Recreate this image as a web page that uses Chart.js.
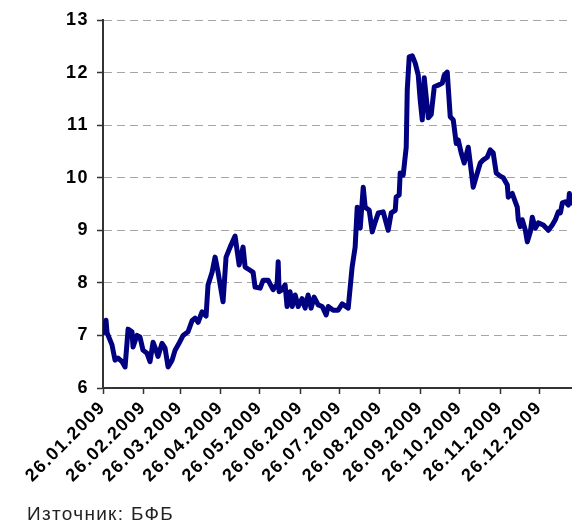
<!DOCTYPE html>
<html>
<head>
<meta charset="utf-8">
<script src="https://cdn.jsdelivr.net/npm/chart.js@4/dist/chart.umd.min.js"></script>
<style>
  html, body { margin: 0; padding: 0; background: #fff; }
  #wrap { position: relative; width: 572px; height: 530px; }
  #source { position: absolute; left: 27px; top: 503px; font: 19px "Liberation Sans", Arial, sans-serif; letter-spacing: 1.3px; color: #222; }
</style>
</head>
<body>
<div id="wrap">
  <canvas id="chart" width="572" height="530"></canvas>
  <div id="source">Източник: БФБ</div>
</div>
<script>
// day offsets from 26.01.2009 for each monthly tick
const tickDays = [0, 31, 59, 90, 120, 151, 181, 212, 243, 273, 304, 334];
const tickLabels = ['26.01.2009', '26.02.2009', '26.03.2009', '26.04.2009', '26.05.2009', '26.06.2009',
                    '26.07.2009', '26.08.2009', '26.09.2009', '26.10.2009', '26.11.2009', '26.12.2009'];

// readings from the picture: day offset / price
const days = [
    0, 2.3, 3.1, 6.9, 9.2, 11.5, 14.6, 16.9, 19.2, 22.2, 23.0, 26.0, 28.3, 30.6, 33.7, 36.0, 38.3, 40.6, 42.1, 45.2,
    47.5, 49.8, 52.9, 55.2, 58.2, 61.3, 65.1, 68.2, 70.5, 72.8, 75.8, 78.9, 80.4, 83.5, 85.8, 88.1, 91.9, 94.2, 97.3, 101.1,
    104.2, 107.2, 108.8, 112.6, 114.9, 116.4, 120.3, 122.6, 126.4, 130.2, 133.3, 134.1, 134.8, 137.1, 139.4, 140.9, 143.2, 144.8, 147.1, 149.4,
    152.4, 154.7, 157.0, 159.3, 161.6, 164.7, 167.8, 170.8, 172.4, 176.2, 180.0, 183.1, 187.7, 190.7, 193.0, 194.6, 196.9, 199.2, 200.7, 203.8,
    206.1, 208.4, 210.7, 214.5, 218.3, 220.6, 223.7, 224.4, 226.7, 227.5, 229.8, 232.1, 232.9, 234.4, 236.7, 239.0, 241.3, 242.8, 244.4, 245.9,
    249.0, 251.2, 253.6, 256.6, 259.7, 261.2, 263.5, 265.8, 268.1, 270.4, 271.9, 274.2, 276.5, 279.6, 281.1, 283.4, 286.5, 288.8, 291.1, 294.1,
    296.4, 298.7, 301.0, 304.1, 306.4, 309.5, 310.2, 313.3, 315.6, 317.1, 317.9, 319.4, 320.9, 323.3, 324.8, 327.1, 328.6, 330.9, 333.2, 337.0,
    340.9, 343.9, 346.2, 348.5, 350.1, 351.6, 353.9, 356.2, 357.0, 358.5
];
const prices = [
    7.05, 7.29, 7.05, 6.82, 6.53, 6.57, 6.5, 6.4, 7.12, 7.07, 6.78, 7.0, 6.97, 6.72, 6.66, 6.5, 6.87, 6.72, 6.6, 6.85,
    6.76, 6.4, 6.53, 6.72, 6.85, 7.0, 7.07, 7.28, 7.33, 7.25, 7.45, 7.37, 7.96, 8.2, 8.49, 8.2, 7.64, 8.49, 8.68, 8.89,
    8.34, 8.68, 8.3, 8.24, 8.2, 7.92, 7.9, 8.05, 8.05, 7.87, 7.98, 8.4, 7.83, 7.87, 7.96, 7.55, 7.83, 7.55, 7.77, 7.55,
    7.7, 7.52, 7.77, 7.52, 7.73, 7.58, 7.55, 7.39, 7.55, 7.48, 7.48, 7.6, 7.52, 8.3, 8.68, 9.44, 9.04, 9.82, 9.44, 9.38,
    8.97, 9.16, 9.33, 9.35, 9.0, 9.33, 9.38, 9.63, 9.67, 10.09, 10.05, 10.58, 11.67, 12.3, 12.32, 12.18, 11.95, 11.48, 11.1, 11.9,
    11.14, 11.2, 11.73, 11.76, 11.8, 11.95, 12.01, 11.16, 11.1, 10.65, 10.72, 10.47, 10.28, 10.58, 10.28, 9.82, 10.09, 10.28, 10.34, 10.39,
    10.53, 10.47, 10.09, 10.03, 10.0, 9.86, 9.63, 9.7, 9.54, 9.44, 9.2, 9.07, 9.2, 9.0, 8.78, 8.97, 9.25, 9.04, 9.14, 9.1,
    9.0, 9.1, 9.2, 9.35, 9.33, 9.52, 9.54, 9.48, 9.7, 9.52
];

const points = days.map((d, i) => ({ x: d, y: prices[i] }));
const font = '"Liberation Sans", Arial, sans-serif';

// Excel draws its axis labels a bit spaced out
const spacedText = {
    id: 'spaced-text',
    beforeDraw(chart) { chart.ctx.letterSpacing = '1.5px'; },
};

new Chart(document.getElementById('chart'), {
    type: 'line',
    plugins: [spacedText],
    data: {
        datasets: [{
            data: points,
            borderColor: '#000080',
            borderWidth: 5,
            borderJoinStyle: 'round',
            borderCapStyle: 'round',
            pointRadius: 0,
            tension: 0,
            fill: false,
        }],
    },
    options: {
        responsive: false,
        animation: false,
        layout: { padding: { top: 20, right: 0, bottom: 0, left: 0 } },
        plugins: { legend: { display: false }, tooltip: { enabled: false } },
        scales: {
            x: {
                type: 'linear',
                min: 0,
                max: 359,
                afterBuildTicks: scale => { scale.ticks = tickDays.map(v => ({ value: v })); },
                afterFit: scale => { scale.height = 142; },
                grid: { drawOnChartArea: false, drawTicks: true, tickLength: 6, tickColor: '#333', tickWidth: 1.5 },
                border: { display: true, color: '#333', width: 2 },
                ticks: {
                    autoSkip: false,
                    minRotation: 45,
                    maxRotation: 45,
                    padding: 3,
                    color: '#000',
                    font: { family: font, size: 18, weight: 'bold' },
                    callback: (v, i) => tickLabels[i],
                },
            },
            y: {
                min: 6,
                max: 13,
                afterFit: scale => { scale.width = 103; },
                grid: { color: '#a6a6a6', lineWidth: 1, tickLength: 6, tickColor: '#333', tickWidth: 1.5, tickBorderDash: [] },
                border: { display: true, color: '#333', width: 2, dash: [8, 5] },
                ticks: {
                    stepSize: 1,
                    padding: 8,
                    color: '#000',
                    font: { family: font, size: 18, weight: 'bold' },
                },
            },
        },
    },
});
</script>
</body>
</html>
